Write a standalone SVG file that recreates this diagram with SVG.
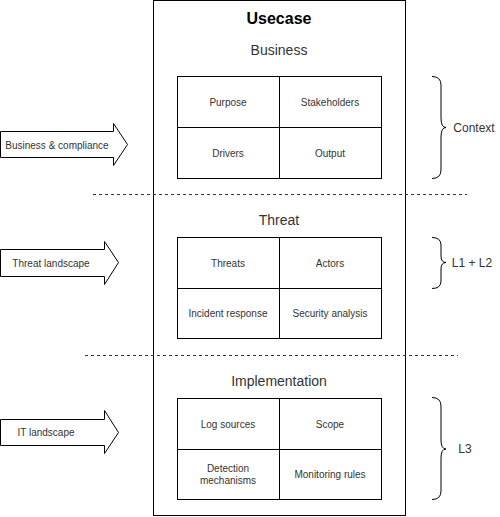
<svg xmlns="http://www.w3.org/2000/svg" width="500" height="517" viewBox="0 0 500 517">
<style>
.b{fill:#fff;stroke:#000;stroke-width:1}
.t{font-family:"Liberation Sans",Arial,sans-serif;fill:#333;text-anchor:middle;dominant-baseline:central}
.s{font-size:10px}
.h{font-size:14px}
.d{stroke:#333;stroke-dasharray:3 3;fill:none}
.br{fill:none;stroke:#000}
</style>
<rect width="500" height="517" fill="#fff"/>
<g id="usecase">
<rect class="b" x="153.5" y="0.5" width="252" height="515"/>
<text class="t" x="279" y="18" style="font-size:16px;font-weight:bold;fill:#000">Usecase</text>
</g>
<g id="connectors">
<line class="d" x1="93" y1="194.5" x2="467" y2="194.5"/>
<line class="d" x1="85" y1="355.5" x2="458" y2="355.5"/>
</g>
<g id="business">
<text class="t h" x="279" y="50">Business</text>
<rect class="b" x="177.5" y="76.5" width="204" height="102"/>
<line class="b" x1="279.5" y1="76.5" x2="279.5" y2="178.5"/>
<line class="b" x1="177.5" y1="127.5" x2="381.5" y2="127.5"/>
<text class="t s" x="228" y="102">Purpose</text>
<text class="t s" x="330" y="102">Stakeholders</text>
<text class="t s" x="228" y="153">Drivers</text>
<text class="t s" x="330" y="153">Output</text>
</g>
<g id="threat">
<text class="t h" x="279" y="220">Threat</text>
<rect class="b" x="177.5" y="237.5" width="204" height="101"/>
<line class="b" x1="279.5" y1="237.5" x2="279.5" y2="338.5"/>
<line class="b" x1="177.5" y1="288.5" x2="381.5" y2="288.5"/>
<text class="t s" x="228" y="263">Threats</text>
<text class="t s" x="330" y="263">Actors</text>
<text class="t s" x="228" y="313">Incident response</text>
<text class="t s" x="330" y="313">Security analysis</text>
</g>
<g id="implementation">
<text class="t h" x="279" y="381">Implementation</text>
<rect class="b" x="177.5" y="398.5" width="204" height="101"/>
<line class="b" x1="279.5" y1="398.5" x2="279.5" y2="499.5"/>
<line class="b" x1="177.5" y1="449.5" x2="381.5" y2="449.5"/>
<text class="t s" x="228" y="424">Log sources</text>
<text class="t s" x="330" y="424">Scope</text>
<text class="t s" x="228" y="468">Detection</text>
<text class="t s" x="228" y="480">mechanisms</text>
<text class="t s" x="330" y="474">Monitoring rules</text>
</g>
<g id="arrow-business">
<path class="b" d="M0.5,131.5 H113.5 V123.5 L127.5,144.5 L113.5,165.5 V157.5 H0.5 Z"/>
<text class="t s" x="57" y="145">Business &amp; compliance</text>
</g>
<g id="arrow-threat">
<path class="b" d="M0.5,249.5 H104.5 V241.5 L118.5,262.5 L104.5,284.5 V276.5 H0.5 Z"/>
<text class="t s" x="51" y="263">Threat landscape</text>
</g>
<g id="arrow-it">
<path class="b" d="M0.5,419.5 H104.5 V410.5 L118.5,432.5 L104.5,453.5 V445.5 H0.5 Z"/>
<text class="t s" x="46" y="432">IT landscape</text>
</g>
<g id="context">
<path class="br" d="M432,76.5 Q441,76.5 441,85 V118 Q441,127.5 446,127.5 Q441,127.5 441,137 V170 Q441,178.5 432,178.5"/>
<text class="t" x="474" y="128" style="font-size:12px">Context</text>
</g>
<g id="l1l2">
<path class="br" d="M432,237.5 Q441,237.5 441,245 V256 Q441,262.5 446,262.5 Q441,262.5 441,269 V281 Q441,288.5 432,288.5"/>
<text class="t" x="472" y="263" style="font-size:12px">L1 + L2</text>
</g>
<g id="l3">
<path class="br" d="M432,397.5 Q441,397.5 441,406 V440 Q441,449 446,449 Q441,449 441,458 V491 Q441,499.5 432,499.5"/>
<text class="t" x="465" y="449" style="font-size:12px">L3</text>
</g>
</svg>
